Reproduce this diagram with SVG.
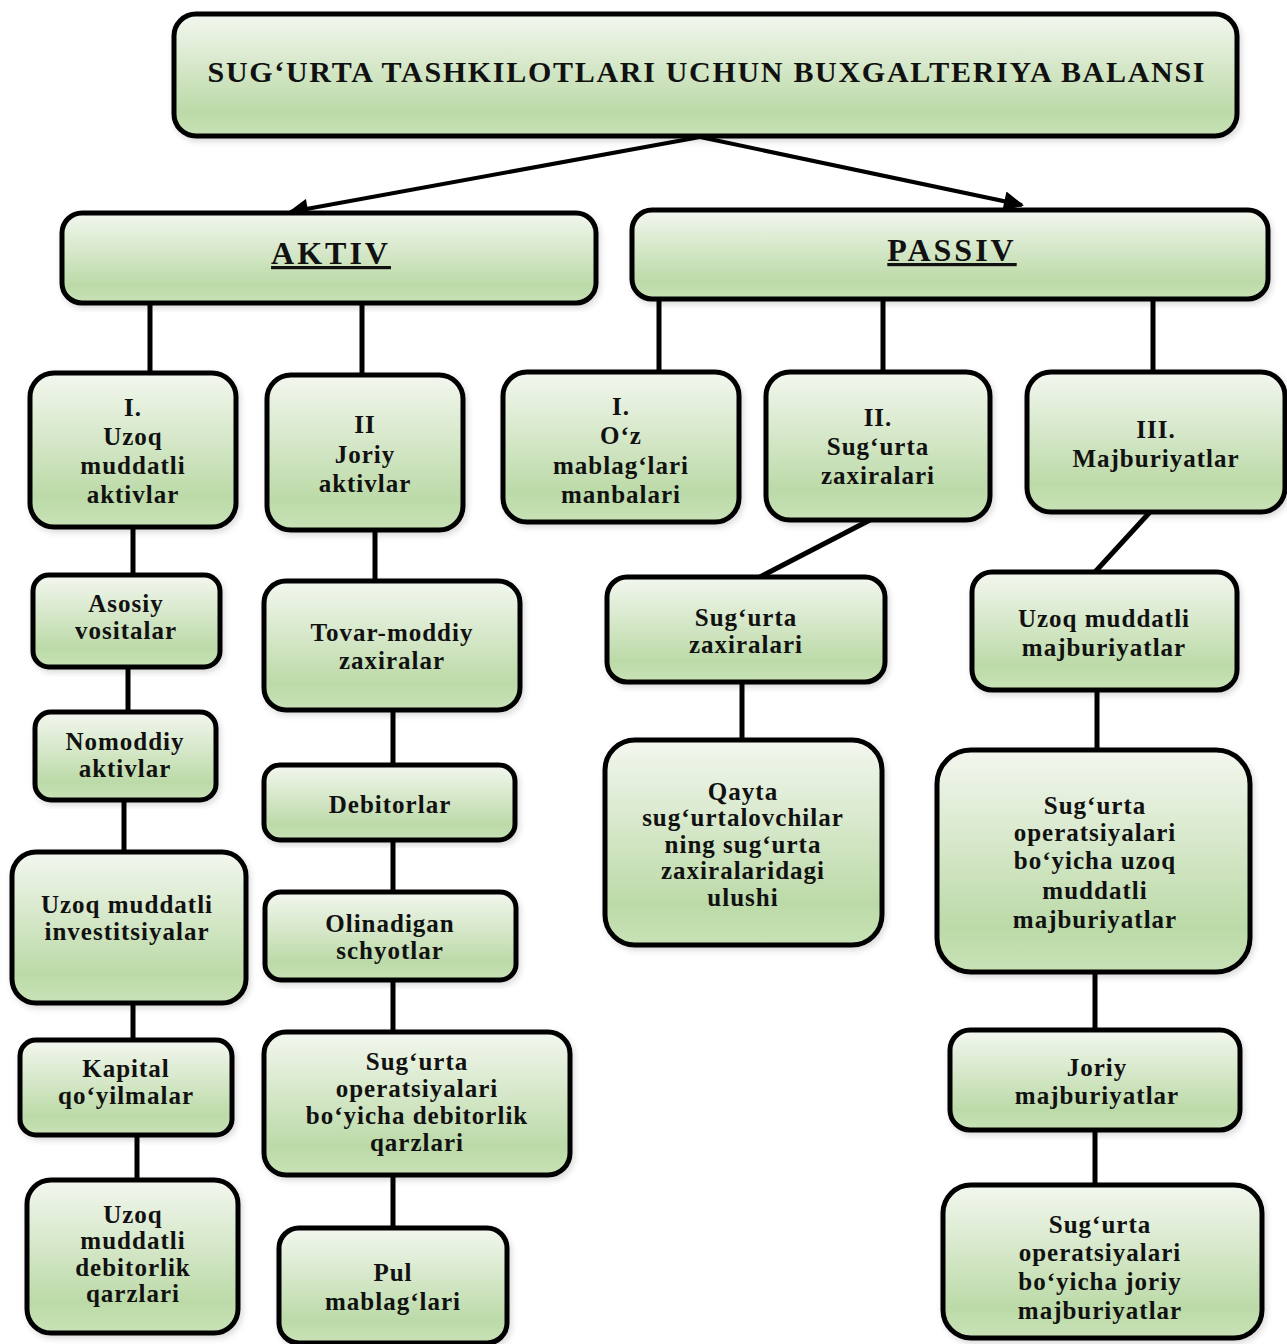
<svg xmlns="http://www.w3.org/2000/svg" width="1287" height="1344" viewBox="0 0 1287 1344">
<defs>
<linearGradient id="g" x1="0" y1="0" x2="0" y2="1">
<stop offset="0" stop-color="#f3f7ef"/>
<stop offset="0.8" stop-color="#bcdaa8"/>
<stop offset="1" stop-color="#c8e2b6"/>
</linearGradient>
<filter id="sh" x="-5%" y="-5%" width="115%" height="115%">
<feGaussianBlur in="SourceAlpha" stdDeviation="3"/>
<feOffset dx="2" dy="3"/>
<feComponentTransfer><feFuncA type="linear" slope="0.15"/></feComponentTransfer>
<feMerge><feMergeNode/><feMergeNode in="SourceGraphic"/></feMerge>
</filter>
<marker id="ah" viewBox="0 0 10 10" refX="9" refY="5" markerWidth="6" markerHeight="5" markerUnits="strokeWidth" orient="auto">
<path d="M0,0 L10,5 L0,10 z" fill="#000"/>
</marker>
</defs>
<style>
.box{fill:url(#g);stroke:#000;stroke-width:5;filter:url(#sh)}
.t{font-family:"Liberation Serif","Times New Roman",serif;font-weight:bold;font-size:25px;fill:#111;text-anchor:middle;letter-spacing:1px}
.h{font-size:32px;text-decoration:underline;letter-spacing:3px}
.ti{font-size:30px;letter-spacing:0}
.c{stroke:#000;stroke-width:5;fill:none}
.a{stroke:#000;stroke-width:4;fill:none;marker-end:url(#ah)}
</style>
<rect width="1287" height="1344" fill="#fff"/>
<g id="connectors">
<line class="a" x1="700" y1="137" x2="290" y2="212"/>
<line class="a" x1="700" y1="137" x2="1022" y2="205"/>
<line class="c" x1="150" y1="303" x2="150" y2="373"/>
<line class="c" x1="362" y1="303" x2="362" y2="375"/>
<line class="c" x1="659" y1="299" x2="659" y2="372"/>
<line class="c" x1="883" y1="299" x2="883" y2="372"/>
<line class="c" x1="1153" y1="299" x2="1153" y2="372"/>
<line class="c" x1="133" y1="527" x2="133" y2="575"/>
<line class="c" x1="128" y1="667" x2="128" y2="712"/>
<line class="c" x1="124" y1="800" x2="124" y2="852"/>
<line class="c" x1="133" y1="1003" x2="133" y2="1040"/>
<line class="c" x1="137" y1="1135" x2="137" y2="1180"/>
<line class="c" x1="375" y1="530" x2="375" y2="581"/>
<line class="c" x1="393" y1="710" x2="393" y2="765"/>
<line class="c" x1="393" y1="840" x2="393" y2="892"/>
<line class="c" x1="393" y1="980" x2="393" y2="1032"/>
<line class="c" x1="393" y1="1175" x2="393" y2="1228"/>
<line class="c" x1="870" y1="520" x2="758" y2="578"/>
<line class="c" x1="742" y1="682" x2="742" y2="740"/>
<line class="c" x1="1150" y1="512" x2="1095" y2="572"/>
<line class="c" x1="1097" y1="690" x2="1097" y2="750"/>
<line class="c" x1="1095" y1="972" x2="1095" y2="1030"/>
<line class="c" x1="1095" y1="1130" x2="1095" y2="1185"/>
</g>
<g id="title"><rect class="box" x="174" y="14" width="1063" height="122" rx="22"/><text class="t ti" x="706" y="82" textLength="997" lengthAdjust="spacing">SUG‘URTA TASHKILOTLARI UCHUN BUXGALTERIYA BALANSI</text></g>
<g id="aktiv"><rect class="box" x="62" y="213" width="534" height="90" rx="20"/><text class="t h" x="331" y="264">AKTIV</text></g>
<g id="passiv"><rect class="box" x="632" y="210" width="636" height="89" rx="20"/><text class="t h" x="952" y="261">PASSIV</text></g>
<g id="a1"><rect class="box" x="30" y="373" width="206" height="154" rx="24"/><text class="t" x="133" y="416">I.</text><text class="t" x="133" y="445">Uzoq</text><text class="t" x="133" y="474">muddatli</text><text class="t" x="133" y="503">aktivlar</text></g>
<g id="a2"><rect class="box" x="267" y="375" width="196" height="155" rx="24"/><text class="t" x="365" y="433">II</text><text class="t" x="365" y="463">Joriy</text><text class="t" x="365" y="492">aktivlar</text></g>
<g id="p1"><rect class="box" x="503" y="372" width="236" height="150" rx="24"/><text class="t" x="621" y="415">I.</text><text class="t" x="621" y="444">O‘z</text><text class="t" x="621" y="474">mablag‘lari</text><text class="t" x="621" y="503">manbalari</text></g>
<g id="p2"><rect class="box" x="766" y="372" width="224" height="148" rx="24"/><text class="t" x="878" y="426">II.</text><text class="t" x="878" y="455">Sug‘urta</text><text class="t" x="878" y="484">zaxiralari</text></g>
<g id="p3"><rect class="box" x="1027" y="372" width="258" height="140" rx="24"/><text class="t" x="1156" y="438">III.</text><text class="t" x="1156" y="467">Majburiyatlar</text></g>
<g id="asosiy"><rect class="box" x="33" y="575" width="187" height="92" rx="16"/><text class="t" x="126" y="612">Asosiy</text><text class="t" x="126" y="639">vositalar</text></g>
<g id="nomoddiy"><rect class="box" x="35" y="712" width="181" height="88" rx="16"/><text class="t" x="125" y="750">Nomoddiy</text><text class="t" x="125" y="777">aktivlar</text></g>
<g id="investitsiyalar"><rect class="box" x="12" y="852" width="234" height="151" rx="24"/><text class="t" x="127" y="913">Uzoq muddatli</text><text class="t" x="127" y="940">investitsiyalar</text></g>
<g id="kapital"><rect class="box" x="20" y="1040" width="212" height="95" rx="16"/><text class="t" x="126" y="1077">Kapital</text><text class="t" x="126" y="1104">qo‘yilmalar</text></g>
<g id="uzoqdeb"><rect class="box" x="27" y="1180" width="211" height="153" rx="24"/><text class="t" x="133" y="1223">Uzoq</text><text class="t" x="133" y="1249">muddatli</text><text class="t" x="133" y="1276">debitorlik</text><text class="t" x="133" y="1302">qarzlari</text></g>
<g id="tovar"><rect class="box" x="264" y="581" width="256" height="129" rx="22"/><text class="t" x="392" y="641">Tovar-moddiy</text><text class="t" x="392" y="669">zaxiralar</text></g>
<g id="debitorlar"><rect class="box" x="264" y="765" width="251" height="75" rx="16"/><text class="t" x="390" y="813">Debitorlar</text></g>
<g id="olinadigan"><rect class="box" x="265" y="892" width="251" height="88" rx="16"/><text class="t" x="390" y="932">Olinadigan</text><text class="t" x="390" y="959">schyotlar</text></g>
<g id="sopdeb"><rect class="box" x="264" y="1032" width="306" height="143" rx="22"/><text class="t" x="417" y="1070">Sug‘urta</text><text class="t" x="417" y="1097">operatsiyalari</text><text class="t" x="417" y="1124">bo‘yicha debitorlik</text><text class="t" x="417" y="1151">qarzlari</text></g>
<g id="pul"><rect class="box" x="279" y="1228" width="228" height="115" rx="20"/><text class="t" x="393" y="1281">Pul</text><text class="t" x="393" y="1310">mablag‘lari</text></g>
<g id="szax"><rect class="box" x="607" y="577" width="278" height="105" rx="20"/><text class="t" x="746" y="626">Sug‘urta</text><text class="t" x="746" y="653">zaxiralari</text></g>
<g id="qayta"><rect class="box" x="605" y="740" width="277" height="205" rx="30"/><text class="t" x="743" y="800">Qayta</text><text class="t" x="743" y="826">sug‘urtalovchilar</text><text class="t" x="743" y="853">ning sug‘urta</text><text class="t" x="743" y="879">zaxiralaridagi</text><text class="t" x="743" y="906">ulushi</text></g>
<g id="uzoqmaj"><rect class="box" x="972" y="572" width="265" height="118" rx="20"/><text class="t" x="1104" y="627">Uzoq muddatli</text><text class="t" x="1104" y="656">majburiyatlar</text></g>
<g id="sopuzoq"><rect class="box" x="937" y="750" width="313" height="222" rx="34"/><text class="t" x="1095" y="814">Sug‘urta</text><text class="t" x="1095" y="841">operatsiyalari</text><text class="t" x="1095" y="869">bo‘yicha uzoq</text><text class="t" x="1095" y="899">muddatli</text><text class="t" x="1095" y="928">majburiyatlar</text></g>
<g id="jorimaj"><rect class="box" x="950" y="1030" width="290" height="100" rx="20"/><text class="t" x="1097" y="1076">Joriy</text><text class="t" x="1097" y="1104">majburiyatlar</text></g>
<g id="sopjoriy"><rect class="box" x="943" y="1185" width="319" height="153" rx="28"/><text class="t" x="1100" y="1233">Sug‘urta</text><text class="t" x="1100" y="1261">operatsiyalari</text><text class="t" x="1100" y="1290">bo‘yicha joriy</text><text class="t" x="1100" y="1319">majburiyatlar</text></g>
</svg>
